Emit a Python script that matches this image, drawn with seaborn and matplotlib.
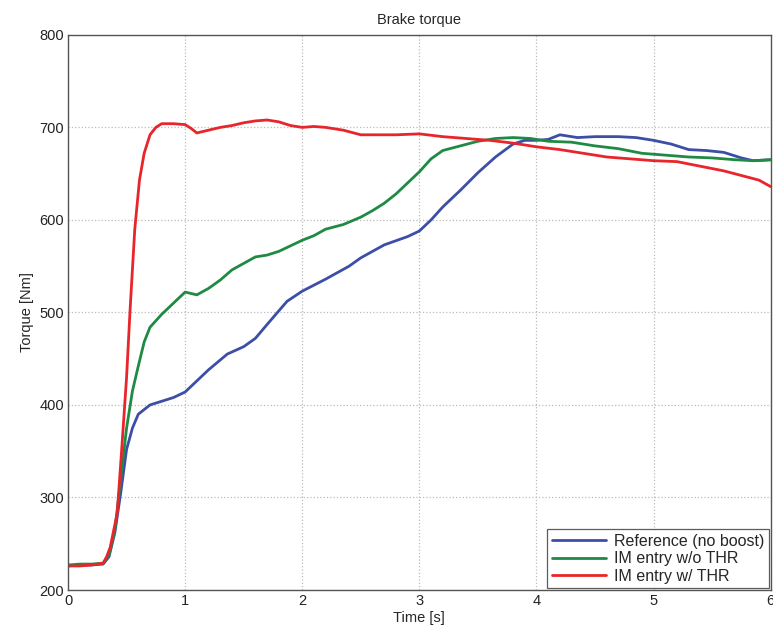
import numpy as np
import pandas as pd
import matplotlib
matplotlib.use("Agg")
import matplotlib.pyplot as plt
import seaborn as sns

t_ref = [0.0, 0.1, 0.2, 0.3, 0.35, 0.4, 0.45, 0.5, 0.55, 0.6, 0.65, 0.7, 0.8, 0.9, 1.0, 1.1,
         1.2, 1.36, 1.5, 1.6, 1.7, 1.87, 2.0, 2.2, 2.4, 2.5, 2.7, 2.9, 3.0, 3.1, 3.2, 3.35,
         3.5, 3.65, 3.8, 3.9, 4.0, 4.1, 4.2, 4.35, 4.5, 4.7, 4.85, 5.0, 5.15, 5.3, 5.45,
         5.6, 5.75, 5.85, 6.0]
v_ref = [226, 227, 227, 228, 236, 262, 305, 352, 375, 390, 395, 400, 404, 408, 414, 426,
         438, 455, 463, 472, 487, 512, 523, 536, 550, 559, 573, 582, 588, 600, 614, 632,
         651, 668, 682, 686, 686, 687, 692, 689, 690, 690, 689, 686, 682, 676, 675,
         673, 667, 664, 665]

t_nothr = [0.0, 0.1, 0.2, 0.3, 0.35, 0.4, 0.45, 0.5, 0.55, 0.6, 0.65, 0.7, 0.8, 0.9, 1.0,
           1.1, 1.2, 1.3, 1.4, 1.5, 1.6, 1.7, 1.8, 1.9, 2.0, 2.1, 2.2, 2.35, 2.5, 2.6,
           2.7, 2.8, 2.9, 3.0, 3.1, 3.2, 3.35, 3.5, 3.65, 3.8, 3.95, 4.1, 4.3, 4.5, 4.7,
           4.9, 5.1, 5.3, 5.5, 5.7, 5.85, 6.0]
v_nothr = [227, 228, 228, 229, 238, 265, 320, 375, 415, 442, 468, 484, 498, 510, 522,
           519, 526, 535, 546, 553, 560, 562, 566, 572, 578, 583, 590, 595, 603, 610,
           618, 628, 640, 652, 666, 675, 680, 685, 688, 689, 688, 685, 684, 680, 677,
           672, 670, 668, 667, 665, 664, 665]

t_thr = [0.0, 0.1, 0.2, 0.3, 0.33, 0.36, 0.42, 0.46, 0.5, 0.53, 0.57, 0.61, 0.65, 0.7,
         0.75, 0.8, 0.9, 1.0, 1.05, 1.1, 1.2, 1.3, 1.4, 1.5, 1.6, 1.7, 1.8, 1.9, 2.0,
         2.1, 2.2, 2.35, 2.5, 2.6, 2.8, 3.0, 3.2, 3.4, 3.6, 3.8, 4.0, 4.2, 4.4, 4.6,
         4.8, 5.0, 5.2, 5.4, 5.6, 5.75, 5.9, 6.0]
v_thr = [226, 226, 227, 229, 236, 246, 283, 355, 430, 503, 590, 643, 672, 692,
         700, 704, 704, 703, 699, 694, 697, 700, 702, 705, 707, 708, 706, 702, 700,
         701, 700, 697, 692, 692, 692, 693, 690, 688, 686, 683, 679, 676, 672, 668,
         666, 664, 663, 658, 653, 648, 643, 636]

labels = ["Reference (no boost)", "IM entry w/o THR", "IM entry w/ THR"]
colors = ["#3c4ea6", "#1f8a43", "#e8252a"]

df = pd.concat([
    pd.DataFrame({"time": t_ref, "torque": v_ref, "case": labels[0]}),
    pd.DataFrame({"time": t_nothr, "torque": v_nothr, "case": labels[1]}),
    pd.DataFrame({"time": t_thr, "torque": v_thr, "case": labels[2]}),
], ignore_index=True)

sns.set_style("white")
plt.rcParams["font.family"] = ["Liberation Sans", "DejaVu Sans"]

fig = plt.figure(figsize=(7.73, 6.34), dpi=100)
ax = fig.add_axes([0.088, 0.0694, 0.909, 0.8756])

sns.lineplot(data=df, x="time", y="torque", hue="case", palette=colors,
             hue_order=labels, linewidth=2, ax=ax, sort=False, estimator=None)

ax.set_xlim(0, 6)
ax.set_ylim(200, 800)
ax.set_xticks(range(0, 7))
ax.set_yticks(range(200, 801, 100))
ax.grid(True, linestyle=":", color="#bbbbbb", linewidth=0.9)
ax.tick_params(direction="in", length=4, labelsize=10.5, colors="#222222", pad=3)
for s in ax.spines.values():
    s.set_color("#555555")
    s.set_linewidth(1)

ax.set_title("Brake torque", fontsize=10.5, pad=8)
ax.set_xlabel("Time [s]", fontsize=10.5, labelpad=2)
ax.set_ylabel("Torque [Nm]", fontsize=10.5, labelpad=4)

leg = ax.legend(loc="lower right", fontsize=11.5, frameon=True, fancybox=False,
                handlelength=3.4, handletextpad=0.5, borderaxespad=0.1,
                labelspacing=0.15, borderpad=0.3)
leg.get_frame().set_edgecolor("#333333")
leg.get_frame().set_linewidth(0.9)

fig.savefig("out.png", dpi=100)
